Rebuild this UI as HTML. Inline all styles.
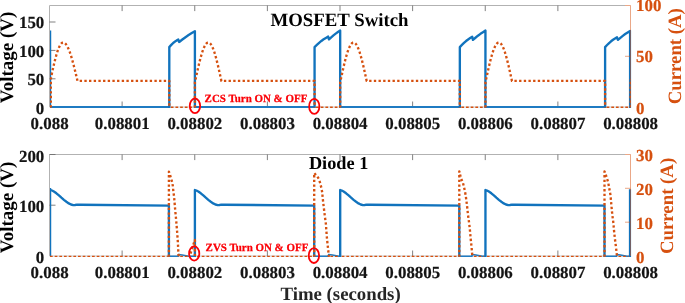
<!DOCTYPE html>
<html><head><meta charset="utf-8"><title>plot</title>
<style>
html,body{margin:0;padding:0;background:#fff;}
body{width:685px;height:303px;overflow:hidden;font-family:"Liberation Serif",serif;}
svg{display:block;position:absolute;left:0;top:0;will-change:transform;opacity:0.999;}
text{font-family:"Liberation Serif",serif;font-weight:bold;text-rendering:geometricPrecision;}
.t{font-size:16.9px;fill:#141414;stroke:#141414;stroke-width:0.2px;}
.o{fill:#d6500f;}
.t.o{stroke:#d6500f;}
.l{font-size:18.8px;}
.a{font-size:10.95px;fill:#fb0007;stroke:#fb0007;stroke-width:0.25px;}
</style></head><body>
<svg width="685" height="303" viewBox="0 0 685 303">
<rect width="685" height="303" fill="#fff"/>
<defs><clipPath id="c0"><rect x="49.9" y="0" width="581.4" height="109"/></clipPath><clipPath id="o0"><rect x="49.9" y="0" width="580.9" height="109"/></clipPath><clipPath id="o1"><rect x="49.9" y="150" width="580.9" height="108"/></clipPath><clipPath id="c1"><rect x="49.9" y="150" width="581.4" height="108"/></clipPath></defs>
<path d="M49.5,107 V5.5 H625" fill="none" stroke="#b2b2b2" stroke-width="1"/>
<path d="M49.5,107 H630.5" fill="none" stroke="#c4c8cc" stroke-width="1"/>
<path d="M122.12,5.5 v5.6 M122.12,107 v-5.5 M194.75,5.5 v5.6 M194.75,107 v-5.5 M267.38,5.5 v5.6 M267.38,107 v-5.5 M340,5.5 v5.6 M340,107 v-5.5 M412.62,5.5 v5.6 M412.62,107 v-5.5 M485.25,5.5 v5.6 M485.25,107 v-5.5 M557.88,5.5 v5.6 M557.88,107 v-5.5 M49.5,22 h6 M49.5,50.4 h6 M49.5,78.8 h6 " fill="none" stroke="#6a6a6a" stroke-width="0.85"/>
<g clip-path="url(#c0)">
<path d="M50.6,30.4 V107.5" stroke="#1173bd" stroke-width="1.25" fill="none"/>
<polyline points="50,107 169.3,107" fill="none" stroke="#1f7bc2" stroke-width="1.8" stroke-linejoin="round"/>
<polyline points="169.3,107.9 169.3,47.1 170.8,45.4 172.3,43.82 173.8,42.45 175.3,41.32 176.8,40.4 178.3,39.6 179.2,42 182.34,39.55 185.48,37.2 188.62,35.04 191.76,33.07 194.9,31.2 194.9,107.9" fill="none" stroke="#1173bd" stroke-width="2.35" stroke-linejoin="round"/>
<polyline points="194.9,107 314.57,107" fill="none" stroke="#1f7bc2" stroke-width="1.8" stroke-linejoin="round"/>
<polyline points="314.57,107.9 314.57,47.1 316.84,44.9 319.1,42.82 321.37,40.95 323.64,39.32 325.9,37.9 328.17,36.6 328.97,39.4 331.21,37.35 333.45,35.4 335.69,33.64 337.93,32.07 340.17,30.6 340.17,107.9" fill="none" stroke="#1173bd" stroke-width="2.35" stroke-linejoin="round"/>
<polyline points="340.17,107 459.84,107" fill="none" stroke="#1f7bc2" stroke-width="1.8" stroke-linejoin="round"/>
<polyline points="459.84,107.9 459.84,47.1 461.91,44.93 463.97,42.89 466.04,41.05 468.11,39.45 470.17,38.07 472.24,36.8 472.94,39.9 475.44,37.75 477.94,35.7 480.44,33.84 482.94,32.17 485.44,30.6 485.44,107.9" fill="none" stroke="#1173bd" stroke-width="2.35" stroke-linejoin="round"/>
<polyline points="485.44,107 605.11,107" fill="none" stroke="#1f7bc2" stroke-width="1.8" stroke-linejoin="round"/>
<polyline points="605.11,107.9 605.11,47.1 607.09,45.02 609.08,43.05 611.06,41.3 613.04,39.79 615.03,38.48 617.01,37.3 617.91,39.9 620.35,37.81 622.79,35.82 625.22,34.02 627.66,32.41 630.1,30.9 630.1,107.9" fill="none" stroke="#1173bd" stroke-width="2.35" stroke-linejoin="round"/>
</g><g clip-path="url(#o0)">
<polyline points="50.8,107.5 50.8,81.9 50.95,77.89 51.59,74.89 52.23,71.94 52.88,69.03 53.52,66.2 54.17,63.47 54.81,60.84 55.46,58.33 56.1,55.96 56.75,53.75 57.39,51.7 58.04,49.83 58.69,48.16 59.33,46.69 59.97,45.42 60.62,44.38 61.27,43.56 61.91,42.97 62.55,42.62 63.2,42.5 63.91,42.62 64.63,42.97 65.34,43.56 66.06,44.38 66.77,45.42 67.49,46.69 68.2,48.16 68.92,49.83 69.63,51.7 70.35,53.75 71.06,55.96 71.78,58.33 72.49,60.84 73.21,63.47 73.92,66.2 74.64,69.03 75.35,71.94 76.07,74.89 76.78,77.89 77.5,80.9 169.3,80.9 169.3,107.5" fill="none" stroke="#d6500f" stroke-width="2.35" stroke-dasharray="2.35 2.32" stroke-linejoin="round"/>
<polyline points="170.8,107.25 194.4,107.25" fill="none" stroke="#d6500f" stroke-width="1.3" stroke-dasharray="2.7 1.97"/>
<polyline points="194.9,107.5 194.9,81.9 195.2,80.9 195.86,77.89 196.51,74.89 197.17,71.94 197.82,69.03 198.48,66.2 199.13,63.47 199.79,60.84 200.44,58.33 201.1,55.96 201.75,53.75 202.41,51.7 203.06,49.83 203.72,48.16 204.37,46.69 205.03,45.42 205.68,44.38 206.34,43.56 206.99,42.97 207.65,42.62 208.3,42.5 208.96,42.62 209.61,42.97 210.27,43.56 210.92,44.38 211.58,45.42 212.23,46.69 212.89,48.16 213.54,49.83 214.2,51.7 214.85,53.75 215.51,55.96 216.16,58.33 216.81,60.84 217.47,63.47 218.12,66.2 218.78,69.03 219.44,71.94 220.09,74.89 220.75,77.89 221.4,80.9 314.57,80.9 314.57,107.5" fill="none" stroke="#d6500f" stroke-width="2.35" stroke-dasharray="2.35 2.32" stroke-linejoin="round"/>
<polyline points="316.07,107.25 339.67,107.25" fill="none" stroke="#d6500f" stroke-width="1.3" stroke-dasharray="2.7 1.97"/>
<polyline points="340.17,107.5 340.17,81.9 340.47,80.9 341.12,77.89 341.78,74.89 342.43,71.94 343.09,69.03 343.74,66.2 344.4,63.47 345.05,60.84 345.71,58.33 346.36,55.96 347.02,53.75 347.67,51.7 348.33,49.83 348.98,48.16 349.64,46.69 350.29,45.42 350.95,44.38 351.6,43.56 352.26,42.97 352.91,42.62 353.57,42.5 354.22,42.62 354.88,42.97 355.53,43.56 356.19,44.38 356.84,45.42 357.5,46.69 358.15,48.16 358.81,49.83 359.46,51.7 360.12,53.75 360.77,55.96 361.43,58.33 362.08,60.84 362.74,63.47 363.39,66.2 364.05,69.03 364.7,71.94 365.36,74.89 366.01,77.89 366.67,80.9 459.84,80.9 459.84,107.5" fill="none" stroke="#d6500f" stroke-width="2.35" stroke-dasharray="2.35 2.32" stroke-linejoin="round"/>
<polyline points="461.34,107.25 484.94,107.25" fill="none" stroke="#d6500f" stroke-width="1.3" stroke-dasharray="2.7 1.97"/>
<polyline points="485.44,107.5 485.44,81.9 485.74,80.9 486.39,77.89 487.05,74.89 487.7,71.94 488.36,69.03 489.01,66.2 489.67,63.47 490.32,60.84 490.98,58.33 491.63,55.96 492.29,53.75 492.94,51.7 493.6,49.83 494.25,48.16 494.91,46.69 495.56,45.42 496.22,44.38 496.88,43.56 497.53,42.97 498.19,42.62 498.84,42.5 499.5,42.62 500.15,42.97 500.81,43.56 501.46,44.38 502.12,45.42 502.77,46.69 503.43,48.16 504.08,49.83 504.74,51.7 505.39,53.75 506.05,55.96 506.7,58.33 507.36,60.84 508.01,63.47 508.67,66.2 509.32,69.03 509.98,71.94 510.63,74.89 511.29,77.89 511.94,80.9 605.11,80.9 605.11,107.5" fill="none" stroke="#d6500f" stroke-width="2.35" stroke-dasharray="2.35 2.32" stroke-linejoin="round"/>
<polyline points="606.61,107.25 630.21,107.25" fill="none" stroke="#d6500f" stroke-width="1.3" stroke-dasharray="2.7 1.97"/>
<polyline points="630.71,107.5 630.71,78.9" fill="none" stroke="#d6500f" stroke-width="2.35" stroke-dasharray="2.35 2.32" stroke-linejoin="round"/>
</g>
<path d="M625,5.5 H630.5 V107 M630.5,56.3 h-5.5 " fill="none" stroke="#d6500f" stroke-width="1" opacity="0.5"/>
<path d="M49.5,256 V154.5 H625" fill="none" stroke="#b2b2b2" stroke-width="1"/>
<path d="M49.5,256 H630.5" fill="none" stroke="#c4c8cc" stroke-width="1"/>
<path d="M122.12,154.5 v5.6 M122.12,256 v-5.5 M194.75,154.5 v5.6 M194.75,256 v-5.5 M267.38,154.5 v5.6 M267.38,256 v-5.5 M340,154.5 v5.6 M340,256 v-5.5 M412.62,154.5 v5.6 M412.62,256 v-5.5 M485.25,154.5 v5.6 M485.25,256 v-5.5 M557.88,154.5 v5.6 M557.88,256 v-5.5 M49.5,154.5 h6 M49.5,205.2 h6 " fill="none" stroke="#6a6a6a" stroke-width="0.85"/>
<g clip-path="url(#c1)">
<path d="M50.6,188 V257" stroke="#1173bd" stroke-width="1.25" fill="none"/>
<polyline points="50.5,190 52,190.5 53.9,191.5 56.4,193.3 58.9,195.4 61.4,197.7 63.9,199.9 66.4,201.8 68.8,203.4 71,204.5 73.3,205.1 75,205 77,204.7 80.5,204.7 168.9,205.7 168.9,257.1" fill="none" stroke="#1173bd" stroke-width="2.35" stroke-linejoin="round"/>
<polyline points="168.9,256.3 178.2,256.3 178.5,254.5 182.2,255 188.7,256.3 194.9,256.3" fill="none" stroke="#1f7bc2" stroke-width="1.6" stroke-linejoin="round"/>
<polyline points="194.9,257.1 194.9,190 196.4,190.5 198.3,191.5 200.8,193.3 203.3,195.4 205.8,197.7 208.3,199.9 210.8,201.8 213.2,203.4 215.4,204.5 217.7,205.1 219.4,205 221.4,204.7 224.9,204.7 314.2,205.7 314.2,257.1" fill="none" stroke="#1173bd" stroke-width="2.35" stroke-linejoin="round"/>
<polyline points="314.2,256.3 328.4,256.3 328.7,254.5 332.4,255 338.9,256.3 340.2,256.3" fill="none" stroke="#1f7bc2" stroke-width="1.6" stroke-linejoin="round"/>
<polyline points="340.2,257.1 340.2,190 341.7,190.5 343.6,191.5 346.1,193.3 348.6,195.4 351.1,197.7 353.6,199.9 356.1,201.8 358.5,203.4 360.7,204.5 363,205.1 364.7,205 366.7,204.7 370.2,204.7 459.3,205.7 459.3,257.1" fill="none" stroke="#1173bd" stroke-width="2.35" stroke-linejoin="round"/>
<polyline points="459.3,256.3 471.9,256.3 472.2,254.5 475.9,255 482.4,256.3 485.45,256.3" fill="none" stroke="#1f7bc2" stroke-width="1.6" stroke-linejoin="round"/>
<polyline points="485.45,257.1 485.45,190 486.95,190.5 488.85,191.5 491.35,193.3 493.85,195.4 496.35,197.7 498.85,199.9 501.35,201.8 503.75,203.4 505.95,204.5 508.25,205.1 509.95,205 511.95,204.7 515.45,204.7 604.5,205.7 604.5,257.1" fill="none" stroke="#1173bd" stroke-width="2.35" stroke-linejoin="round"/>
<polyline points="604.5,256.3 616.5,256.3 616.8,254.5 620.5,255 627,256.3 630.05,256.3" fill="none" stroke="#1f7bc2" stroke-width="1.6" stroke-linejoin="round"/>
<polyline points="630.05,257.1 630.05,189.2" fill="none" stroke="#1173bd" stroke-width="2.35" stroke-linejoin="round"/>
</g><g clip-path="url(#o1)">
<polyline points="50,256.3 167.9,256.3" fill="none" stroke="#d6500f" stroke-width="1.3" stroke-dasharray="2.7 1.97"/>
<polyline points="168.9,256.8 168.9,171.7 169.8,174 170.7,177.4 172.1,182 172.9,186.4 173.4,192 174,195.8 174.4,200.5 175.2,210 176.1,219.5 176.9,229 177.4,235.5 177.9,243 178.3,251 178.7,256.8" fill="none" stroke="#d6500f" stroke-width="2.35" stroke-dasharray="2.35 2.32" stroke-linejoin="round"/>
<polyline points="180.2,256.3 188.9,256.3" fill="none" stroke="#d6500f" stroke-width="1.3" stroke-dasharray="2.7 1.97"/>
<polyline points="190.5,253.6 194.9,240 194.9,256.8" fill="none" stroke="#d6500f" stroke-width="2.35" stroke-dasharray="2.35 2.32" stroke-linejoin="round"/>
<polyline points="197.1,256.3 313.2,256.3" fill="none" stroke="#d6500f" stroke-width="1.3" stroke-dasharray="2.7 1.97"/>
<polyline points="314.2,256.8 314.2,173 316.4,175.4 318.9,178.9 320.4,183.9 321.35,187.8 322.3,192.8 322.6,197 323.6,205.9 324.8,215.9 326,224.8 326.3,230 327,238.9 328,248.3 328.5,252.8 328.9,256.8" fill="none" stroke="#d6500f" stroke-width="2.35" stroke-dasharray="2.35 2.32" stroke-linejoin="round"/>
<polyline points="330.4,256.3 338.7,256.3" fill="none" stroke="#d6500f" stroke-width="1.3" stroke-dasharray="2.7 1.97"/>
<polyline points="341.7,256.3 458.3,256.3" fill="none" stroke="#d6500f" stroke-width="1.3" stroke-dasharray="2.7 1.97"/>
<polyline points="459.3,256.8 459.3,171.3 460.2,175 461,178.4 462.8,182.4 464,186.9 465,191.8 465.7,195.3 467,205.4 468,214.9 469.3,224.3 469.8,228.8 470.6,237.9 471.6,247.4 472,252.3 472.4,256.8" fill="none" stroke="#d6500f" stroke-width="2.35" stroke-dasharray="2.35 2.32" stroke-linejoin="round"/>
<polyline points="473.9,256.3 483.95,256.3" fill="none" stroke="#d6500f" stroke-width="1.3" stroke-dasharray="2.7 1.97"/>
<polyline points="486.95,256.3 603.5,256.3" fill="none" stroke="#d6500f" stroke-width="1.3" stroke-dasharray="2.7 1.97"/>
<polyline points="604.5,256.8 604.5,171.5 605.5,174 606.5,176.9 608.2,182.4 609,186.9 609.8,191.3 610.5,195.3 611.4,205.4 612.3,214.9 613.5,223.8 613.8,228.5 614.8,237.9 616,247.4 616.6,252.3 617,256.8" fill="none" stroke="#d6500f" stroke-width="2.35" stroke-dasharray="2.35 2.32" stroke-linejoin="round"/>
<polyline points="618.5,256.3 628.55,256.3" fill="none" stroke="#d6500f" stroke-width="1.3" stroke-dasharray="2.7 1.97"/>
</g>
<path d="M625,154.5 H630.5 V256 M630.5,188.3 h-5.5 M630.5,222.2 h-5.5 " fill="none" stroke="#d6500f" stroke-width="1" opacity="0.5"/>
<text x="44.3" y="28" text-anchor="end" class="t">150</text>
<text x="44.3" y="56.9" text-anchor="end" class="t">100</text>
<text x="44.3" y="85.2" text-anchor="end" class="t">50</text>
<text x="44.3" y="114.2" text-anchor="end" class="t">0</text>
<text x="636.0" y="11.4" class="t o">100</text>
<text x="636.0" y="62.3" class="t o">50</text>
<text x="636.0" y="114.2" class="t o">0</text>
<text x="44.3" y="161.8" text-anchor="end" class="t">200</text>
<text x="44.3" y="211.7" text-anchor="end" class="t">100</text>
<text x="44.3" y="263.3" text-anchor="end" class="t">0</text>
<text x="636.0" y="160.9" class="t o">30</text>
<text x="636.0" y="195.3" class="t o">20</text>
<text x="636.0" y="229.2" class="t o">10</text>
<text x="636.0" y="263.3" class="t o">0</text>
<text x="49.6" y="128.9" text-anchor="middle" class="t">0.088</text>
<text x="49.6" y="277.9" text-anchor="middle" class="t">0.088</text>
<text x="122.22" y="128.9" text-anchor="middle" class="t">0.08801</text>
<text x="122.22" y="277.9" text-anchor="middle" class="t">0.08801</text>
<text x="194.85" y="128.9" text-anchor="middle" class="t">0.08802</text>
<text x="194.85" y="277.9" text-anchor="middle" class="t">0.08802</text>
<text x="267.48" y="128.9" text-anchor="middle" class="t">0.08803</text>
<text x="267.48" y="277.9" text-anchor="middle" class="t">0.08803</text>
<text x="340.1" y="128.9" text-anchor="middle" class="t">0.08804</text>
<text x="340.1" y="277.9" text-anchor="middle" class="t">0.08804</text>
<text x="412.73" y="128.9" text-anchor="middle" class="t">0.08805</text>
<text x="412.73" y="277.9" text-anchor="middle" class="t">0.08805</text>
<text x="485.35" y="128.9" text-anchor="middle" class="t">0.08806</text>
<text x="485.35" y="277.9" text-anchor="middle" class="t">0.08806</text>
<text x="557.98" y="128.9" text-anchor="middle" class="t">0.08807</text>
<text x="557.98" y="277.9" text-anchor="middle" class="t">0.08807</text>
<text x="630.6" y="128.9" text-anchor="middle" class="t">0.08808</text>
<text x="630.6" y="277.9" text-anchor="middle" class="t">0.08808</text>
<text x="339.5" y="25.6" text-anchor="middle" class="l" fill="#000">MOSFET Switch</text>
<text x="338.6" y="169" text-anchor="middle" class="l" style="font-size:18.3px" fill="#000">Diode 1</text>
<text x="340.6" y="299.9" text-anchor="middle" class="l" fill="#262626">Time (seconds)</text>
<text transform="translate(12.8,57.5) rotate(-90)" text-anchor="middle" class="l" style="font-size:19px" fill="#000">Voltage (V)</text>
<text transform="translate(12.8,207.5) rotate(-90)" text-anchor="middle" class="l" style="font-size:19px" fill="#000">Voltage (V)</text>
<text transform="translate(681.3,56.2) rotate(-90)" text-anchor="middle" class="l o">Current (A)</text>
<text transform="translate(673,205.9) rotate(-90)" text-anchor="middle" class="l o">Current (A)</text>
<text x="204.6" y="101.9" class="a">ZCS Turn ON &amp; OFF</text>
<text x="205.6" y="250.7" class="a">ZVS Turn ON &amp; OFF</text>
<ellipse cx="194.95" cy="105.85" rx="5.2" ry="7.35" fill="none" stroke="#fb0007" stroke-width="1.8"/>
<ellipse cx="314.25" cy="106.4" rx="5.1" ry="7.5" fill="none" stroke="#fb0007" stroke-width="1.8"/>
<ellipse cx="194.2" cy="253.5" rx="5.1" ry="7.05" fill="none" stroke="#fb0007" stroke-width="1.8"/>
<ellipse cx="313.9" cy="255.6" rx="5.2" ry="7.4" fill="none" stroke="#fb0007" stroke-width="1.8"/>
</svg></body></html>
